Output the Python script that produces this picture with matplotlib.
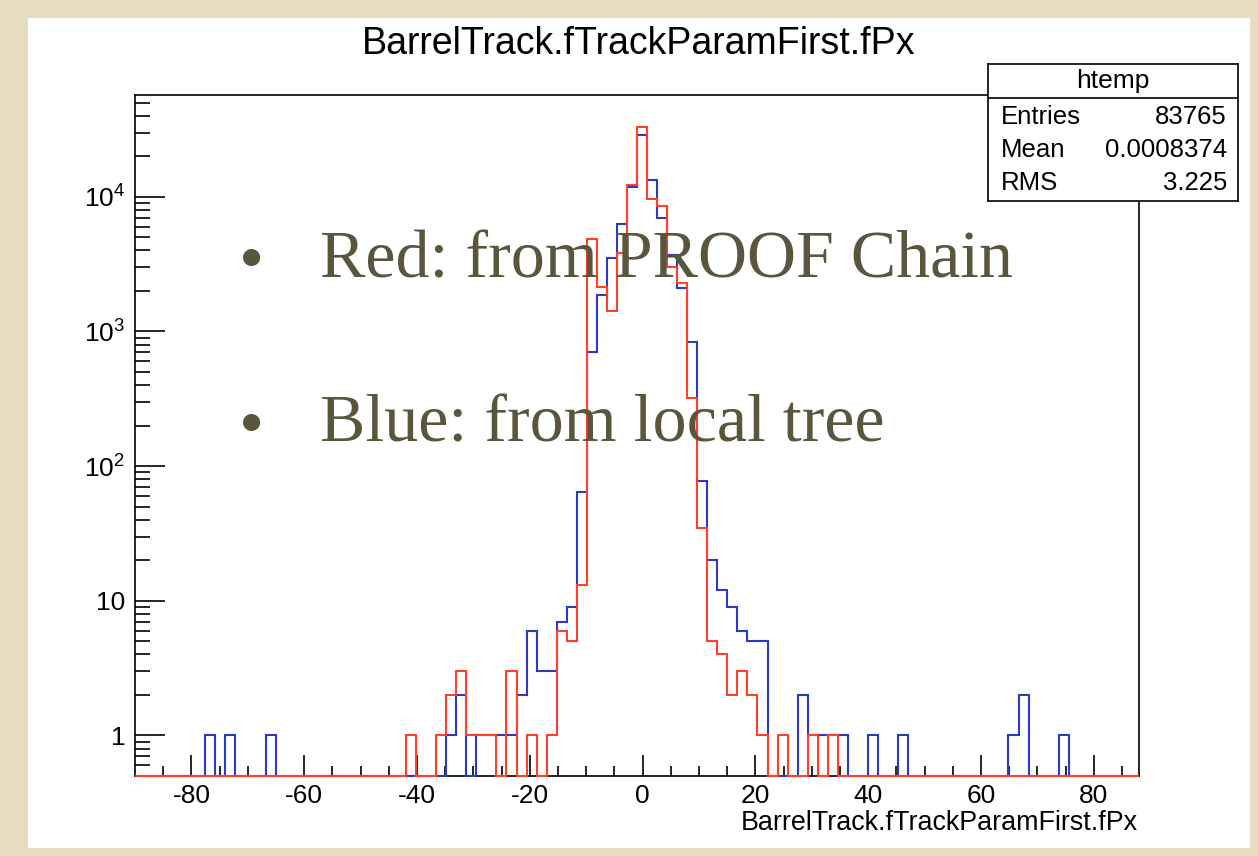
import numpy as np
import matplotlib
matplotlib.use("Agg")
import matplotlib.pyplot as plt
from matplotlib.patches import Rectangle
from matplotlib.ticker import FixedLocator, NullFormatter

# ---------------- data ----------------
title = "BarrelTrack.fTrackParamFirst.fPx"
x_label = "BarrelTrack.fTrackParamFirst.fPx"
x_min, x_max, n_bins = -90.0, 88.0, 100
y_min, y_max = 0.5, 5.7e4

# local tree (blue)
blue_counts = [
    0, 0, 0, 0, 0, 0, 0, 1, 0, 1,
    0, 0, 0, 1, 0, 0, 0, 0, 0, 0,
    0, 0, 0, 0, 0, 0, 0, 0, 0, 0,
    0, 1, 2, 0, 1, 1, 1, 1, 2, 6,
    3, 3, 7, 9, 64, 700, 1870, 3500, 6250, 11900,
    28800, 13400, 6900, 3700, 2100, 830, 78, 20, 12, 9,
    6, 5, 5, 0, 0, 0, 2, 1, 1, 1,
    1, 0, 0, 1, 0, 0, 1, 0, 0, 0,
    0, 0, 0, 0, 0, 0, 0, 1, 2, 0,
    0, 0, 1, 0, 0, 0, 0, 0, 0, 0,
]
# PROOF chain (red)
red_counts = [
    0, 0, 0, 0, 0, 0, 0, 0, 0, 0,
    0, 0, 0, 0, 0, 0, 0, 0, 0, 0,
    0, 0, 0, 0, 0, 0, 0, 1, 0, 0,
    1, 2, 3, 1, 1, 1, 0, 3, 0, 1,
    0, 1, 6, 5, 13, 4900, 2150, 1430, 3800, 12300,
    32700, 9550, 8500, 3030, 2280, 320, 35, 5, 4, 2,
    3, 2, 1, 0, 1, 0, 0, 1, 0, 1,
    0, 0, 0, 0, 0, 0, 0, 0, 0, 0,
    0, 0, 0, 0, 0, 0, 0, 0, 0, 0,
    0, 0, 0, 0, 0, 0, 0, 0, 0, 0,
]

x_major = [-80, -60, -40, -20, 0, 20, 40, 60, 80]
y_major = [1, 10, 100, 1000, 10000]
y_major_labels = ["1", "10", r"$10^{2}$", r"$10^{3}$", r"$10^{4}$"]

stats_name = "htemp"
stats_rows = [("Entries", "83765"), ("Mean", "0.0008374"), ("RMS", "3.225")]

bullets = ["Red: from PROOF Chain", "Blue: from local tree"]

# ---------------- style ----------------
W, H = 1258, 856
plt.rcParams["font.family"] = ["Liberation Sans", "DejaVu Sans"]
plt.rcParams["mathtext.default"] = "regular"

beige = "#e8dcc0"
olive = "#5a553d"
blue_c = "#2a3ac2"
red_c = "#ff3f2a"

fig = plt.figure(figsize=(W / 100, H / 100), dpi=100, facecolor=beige)

# white ROOT canvas
fig.patches.append(Rectangle((28 / W, 1 - 848 / H), (1250 - 28) / W, (848 - 18) / H,
                             transform=fig.transFigure, facecolor="white",
                             edgecolor="none", zorder=-10))

def fx(px):
    return px / W

def fy(py):
    return 1 - py / H

ax_l, ax_r, ax_t, ax_b = 135, 1139, 95, 776
ax = fig.add_axes([fx(ax_l), fy(ax_b), (ax_r - ax_l) / W, (ax_b - ax_t) / H])
ax.set_facecolor("white")
ax.set_yscale("log")
ax.set_xlim(x_min, x_max)
ax.set_ylim(y_min, y_max)

edges = np.linspace(x_min, x_max, n_bins + 1)
blue_v = np.maximum(np.array(blue_counts, float), y_min)
red_v = np.maximum(np.array(red_counts, float), y_min)
ax.stairs(blue_v, edges, baseline=None, color=blue_c, lw=1.5, zorder=3, clip_on=False)
ax.stairs(red_v, edges, baseline=None, color=red_c, lw=1.5, zorder=3.1, clip_on=False)

for s in ax.spines.values():
    s.set_linewidth(1.2)
    s.set_color("black")

# x ticks
ax.xaxis.set_major_locator(FixedLocator(x_major))
ax.xaxis.set_minor_locator(FixedLocator(np.arange(-85, 90, 5)))
ax.set_xticklabels([str(v) for v in x_major])
ax.tick_params(axis="x", which="major", direction="in", length=14.9, width=1.2,
               labelsize=19, pad=6, top=False)
ax.tick_params(axis="x", which="minor", direction="in", length=7.2, width=1.2, top=False)

# y ticks
ax.yaxis.set_major_locator(FixedLocator(y_major))
minors = []
for dec in [0.1, 1, 10, 100, 1000, 10000]:
    for m in range(2, 10):
        v = m * dec
        if y_min < v < y_max and v not in y_major:
            minors.append(v)
ax.yaxis.set_minor_locator(FixedLocator(minors))
ax.yaxis.set_minor_formatter(NullFormatter())
ax.set_yticklabels(y_major_labels)
ax.tick_params(axis="y", which="major", direction="in", length=21.6, width=1.2,
               labelsize=19, pad=7, right=False)
ax.tick_params(axis="y", which="minor", direction="in", length=10.8, width=1.2, right=False)

# title and axis label
fig.text(fx(639), fy(54), title, ha="center", va="baseline", fontsize=27, color="black")
fig.text(fx(1138), fy(830), x_label, ha="right", va="baseline", fontsize=19.4, color="black")

# stats box
sb_l, sb_r, sb_t, sb_b = 988, 1238, 64, 201
sax = fig.add_axes([fx(sb_l), fy(sb_b), (sb_r - sb_l) / W, (sb_b - sb_t) / H])
sax.set_xlim(0, 1)
sax.set_ylim(0, 1)
sax.set_xticks([])
sax.set_yticks([])
sax.set_facecolor("white")
for s in sax.spines.values():
    s.set_linewidth(1.2)
sep = (sb_b - 97.5) / (sb_b - sb_t)
sax.axhline(sep, color="black", lw=1.2)
sax.text(0.5, (sb_b - 81) / (sb_b - sb_t), stats_name, ha="center", va="center", fontsize=19)
row_y = [117, 150, 183]
for (lab, val), py in zip(stats_rows, row_y):
    yy = (sb_b - py) / (sb_b - sb_t)
    sax.text((1001 - sb_l) / (sb_r - sb_l), yy, lab, ha="left", va="center", fontsize=18.5)
    sax.text((1227 - sb_l) / (sb_r - sb_l), yy, val, ha="right", va="center", fontsize=18.5)

# slide bullet text
for txt, base in zip(bullets, [277, 442]):
    fig.text(fx(252), fy(base + 4), "\u2022", ha="center", va="baseline", fontsize=52,
             family="Liberation Serif", color=olive, zorder=10)
    fig.text(fx(320), fy(base), txt, ha="left", va="baseline", fontsize=49,
             family="Liberation Serif", color=olive, zorder=10)

fig.savefig("out.png", dpi=100, facecolor=beige)
